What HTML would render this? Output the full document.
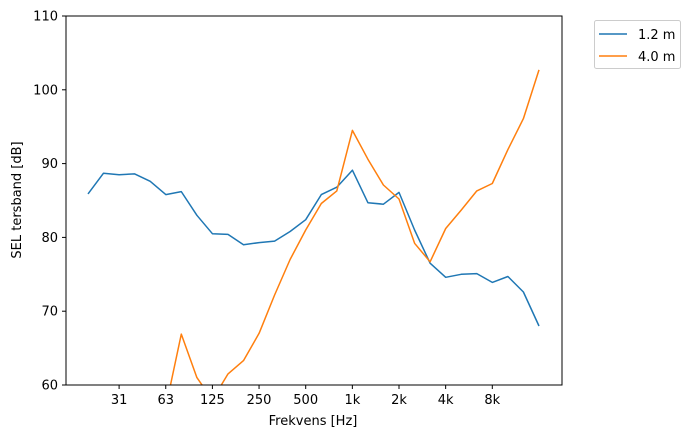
<!DOCTYPE html>
<html><head><meta charset="utf-8"><style>
html,body{margin:0;padding:0;background:#fff;overflow:hidden;width:693px;height:438px;}
svg{display:block}
svg text{font-family:"DejaVu Sans","Liberation Sans",sans-serif;font-size:13px;fill:#000}
</style></head><body>
<svg id="s" width="693" height="438" xmlns="http://www.w3.org/2000/svg">
<defs><clipPath id="c"><rect x="66" y="16" width="496" height="369"/></clipPath></defs>
<rect x="0" y="0" width="693" height="438" fill="#fff"/>
<g id="g"></g>
<rect x="66" y="16" width="496" height="369" fill="none" stroke="#000" stroke-width="1"/>
<text x="313" y="425" text-anchor="middle">Frekvens [Hz]</text>
<text transform="translate(21,200) rotate(-90)" text-anchor="middle">SEL tersband [dB]</text>
<rect x="594.5" y="20.5" width="86" height="48" rx="2" fill="#fff" stroke="#ccc"/>
<line x1="599" y1="34" x2="627" y2="34" stroke="#1f77b4" stroke-width="1.5"/>
<text x="638" y="39">1.2 m</text>
<line x1="599" y1="56" x2="627" y2="56" stroke="#ff7f0e" stroke-width="1.5"/>
<text x="638" y="61">4.0 m</text>
</svg>
<script>
var g=document.getElementById('g'),h='';
function Y(v){return 385-(v-60)*7.38;}
function X(i){return 88+i*15.55;}
for(var v=60;v<=110;v+=10){var y=Y(v);h+='<line x1="62" x2="66" y1="'+y+'" y2="'+y+'" stroke="#000"/><text x="58" y="'+(y+4.5)+'" text-anchor="end">'+v+'</text>';}
var lb=['31','63','125','250','500','1k','2k','4k','8k'];
for(var k=0;k<9;k++){var x=X(2+3*k);h+='<line x1="'+x+'" x2="'+x+'" y1="385" y2="389" stroke="#000"/><text x="'+x+'" y="404" text-anchor="middle">'+lb[k]+'</text>';}
var b=[85.9,88.7,88.5,88.6,87.6,85.8,86.2,83,80.5,80.4,79,79.3,79.5,80.8,82.4,85.8,86.8,89.1,84.7,84.5,86.1,81,76.5,74.6,75,75.1,73.9,74.7,72.6,68];
var o=[56,56,56,56,56,56,66.9,61,58,61.5,63.3,67,72.2,77,81,84.6,86.3,94.5,90.6,87.1,85.2,79.2,76.7,81.2,83.7,86.3,87.3,91.9,96.1,102.7];
o[5]=57;
function P(a,c){var p=a.map(function(v,i){return X(i).toFixed(1)+','+Y(v).toFixed(1)}).join(' ');return '<polyline clip-path="url(#c)" points="'+p+'" fill="none" stroke="'+c+'" stroke-width="1.5" stroke-linejoin="round"/>';}
h+=P(b,'#1f77b4')+P(o,'#ff7f0e');
g.innerHTML=h;
</script>
</body></html>
